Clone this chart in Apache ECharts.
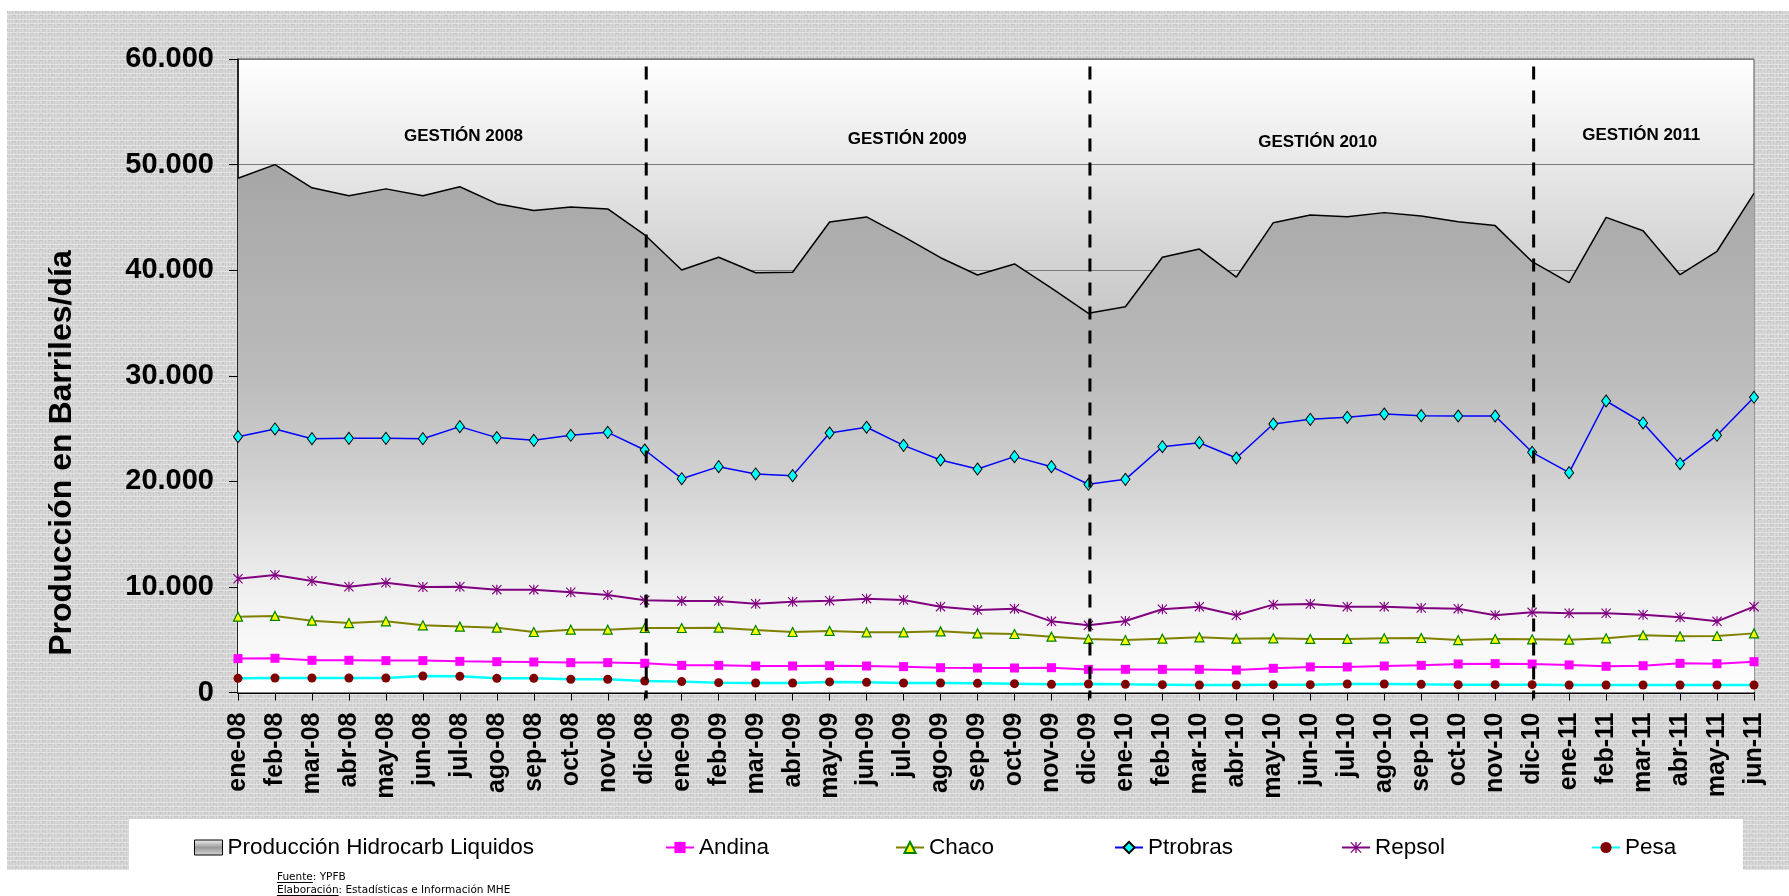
<!DOCTYPE html>
<html>
<head>
<meta charset="utf-8">
<script src="https://cdn.jsdelivr.net/npm/echarts@6/dist/echarts.min.js"></script>
<style>
  html, body { margin: 0; padding: 0; background: #ffffff; }
  #chart { width: 1789px; height: 896px; }
</style>
</head>
<body>
<div id="chart"></div>
<script>
// Monthly liquid hydrocarbon production (barrels per day), Jan 2008 - Jun 2011
const months = [
  'ene-08','feb-08','mar-08','abr-08','may-08','jun-08','jul-08','ago-08','sep-08','oct-08','nov-08','dic-08',
  'ene-09','feb-09','mar-09','abr-09','may-09','jun-09','jul-09','ago-09','sep-09','oct-09','nov-09','dic-09',
  'ene-10','feb-10','mar-10','abr-10','may-10','jun-10','jul-10','ago-10','sep-10','oct-10','nov-10','dic-10',
  'ene-11','feb-11','mar-11','abr-11','may-11','jun-11'
];

const totalLiquidos = [
  48700, 50000, 47800, 47050, 47700, 47050, 47900, 46300, 45650, 45980, 45800, 43350,
  40020, 41220, 39760, 39800, 44560, 45040, 43170, 41180, 39540, 40590, 38300, 35910,
  36540, 41220, 42000, 39350, 44500, 45230, 45070, 45450, 45130, 44590, 44220, 40800,
  38820, 45000, 43740, 39570, 41790, 47280
];

const andina = [
  3210, 3240, 3050, 3050, 3020, 3020, 2950, 2920, 2890, 2830, 2830, 2760,
  2570, 2570, 2510, 2510, 2540, 2510, 2450, 2350, 2320, 2320, 2350, 2190,
  2190, 2190, 2190, 2130, 2290, 2420, 2420, 2510, 2570, 2700, 2730, 2700,
  2610, 2480, 2540, 2760, 2730, 2920
];

const chaco = [
  7180, 7250, 6800, 6580, 6740, 6360, 6240, 6140, 5730, 5950, 5950, 6110,
  6110, 6140, 5920, 5730, 5830, 5700, 5700, 5790, 5600, 5540, 5290, 5070,
  4970, 5100, 5230, 5100, 5130, 5070, 5070, 5130, 5160, 4970, 5070, 5040,
  5000, 5130, 5420, 5320, 5350, 5600
];

const ptrobras = [
  24230, 24960, 24040, 24070, 24070, 24040, 25180, 24140, 23880, 24360, 24640, 22970,
  20250, 21390, 20700, 20540, 24580, 25120, 23410, 22020, 21170, 22340, 21390, 19720,
  20190, 23280, 23660, 22210, 25430, 25870, 26060, 26380, 26220, 26190, 26190, 22750,
  20820, 27610, 25530, 21670, 24360, 27960
];

const repsol = [
  10780, 11130, 10560, 10020, 10400, 9990, 10020, 9740, 9740, 9490, 9240, 8730,
  8670, 8670, 8410, 8600, 8700, 8890, 8760, 8130, 7810, 7940, 6740, 6360,
  6770, 7880, 8130, 7310, 8320, 8380, 8130, 8130, 8000, 7940, 7310, 7590,
  7500, 7500, 7370, 7120, 6740, 8130
];

const pesa = [
  1340, 1370, 1370, 1370, 1370, 1560, 1530, 1340, 1340, 1250, 1250, 1090,
  1030, 930, 900, 900, 1000, 960, 900, 900, 870, 840, 770, 810,
  770, 740, 710, 710, 740, 740, 810, 810, 770, 740, 740, 740,
  710, 710, 710, 710, 710, 710
];

const yTickLabels = ['0', '10.000', '20.000', '30.000', '40.000', '50.000', '60.000'];
const yearLabels = ['GESTIÓN 2008', 'GESTIÓN 2009', 'GESTIÓN 2010', 'GESTIÓN 2011'];
const yearEnds = ['dic-08', 'dic-09', 'dic-10'];
const seriesNames = ['Producción Hidrocarb Liquidos', 'Andina', 'Chaco', 'Ptrobras', 'Repsol', 'Pesa'];
const yAxisTitle = 'Producción en Barriles/día';
const sourceLines = [['Fuente', ': YPFB'], ['Elaboración', ': Estadísticas e Información MHE']];

// ---------- drawing ----------
const FONT = 'Liberation Sans, Arial, sans-serif';
const chart = echarts.init(document.getElementById('chart'), null, { renderer: 'canvas' });

// woven canvas texture for the outer panel
function makeTexture() {
  const c = document.createElement('canvas');
  c.width = 9; c.height = 9;
  const g = c.getContext('2d');
  g.fillStyle = '#d7d7d7'; g.fillRect(0, 0, 9, 9);
  g.fillStyle = '#cacaca';
  for (let i = 0; i < 9; i += 3) g.fillRect(i, 0, 1, 9);
  g.fillStyle = '#e3e3e3';
  for (let j = 1; j < 9; j += 4) g.fillRect(0, j, 9, 1);
  g.fillStyle = '#c4c4c4';
  g.fillRect(4, 6, 2, 1); g.fillRect(7, 2, 1, 2);
  return c;
}

// asterisk marker built from three bars
const asteriskPath = 'path://M4.4 0H5.6V10H4.4Z M0 0.8L0.8 0L10 9.2L9.2 10Z M9.2 0L10 0.8L0.8 10L0 9.2Z';

const G = echarts.graphic;
const areaFill = new G.LinearGradient(0, 0, 0, 1, [
  { offset: 0, color: '#a6a6a6' },
  { offset: 0.4, color: '#bbbbbb' },
  { offset: 0.6, color: '#d2d2d2' },
  { offset: 0.8, color: '#efefef' },
  { offset: 1, color: '#ffffff' }
]);
const plotFill = new G.LinearGradient(0, 0, 0, 1, [
  { offset: 0, color: '#ffffff' },
  { offset: 0.4, color: '#c8c8c8' },
  { offset: 1, color: '#8c8c8c' }
]);
const iconFill = new G.LinearGradient(0, 0, 0, 1, [
  { offset: 0, color: '#f4f4f4' },
  { offset: 0.5, color: '#9a9a9a' },
  { offset: 1, color: '#d8d8d8' }
]);

function lineSeries(name, data, color, width, symbol, symbolSize, itemStyle) {
  return {
    name, type: 'line', data,
    symbol, symbolSize, showSymbol: true, showAllSymbol: true,
    lineStyle: { color, width },
    itemStyle: Object.assign({ color }, itemStyle || {}),
    z: 3, silent: true
  };
}

const legendBase = {
  orient: 'horizontal', top: 836, padding: 0, itemWidth: 28, itemHeight: 14,
  selectedMode: false,
  textStyle: { fontFamily: FONT, fontSize: 22.5, color: '#000' }
};
const legendLefts = [194, 665, 895, 1114, 1341, 1591];

const option = {
  animation: false,
  backgroundColor: '#ffffff',
  grid: {
    left: 238, right: 35, top: 59, bottom: 203.5,
    show: true, backgroundColor: plotFill, borderColor: '#555555', borderWidth: 1,
    containLabel: false, outerBoundsMode: 'none'
  },
  xAxis: {
    type: 'category', data: months, boundaryGap: false,
    axisLine: { show: true, lineStyle: { color: '#000', width: 2 } },
    axisTick: { show: true, interval: 0, length: 8, lineStyle: { color: '#000', width: 1 } },
    axisLabel: {
      interval: 0, rotate: 90, margin: 20,
      fontFamily: FONT, fontWeight: 'bold', fontSize: 25, color: '#000'
    },
    splitLine: { show: false }
  },
  yAxis: {
    type: 'value', min: 0, max: 60000, interval: 10000,
    axisLine: { show: true, lineStyle: { color: '#000', width: 1.5 } },
    axisTick: { show: true, length: 9, lineStyle: { color: '#000', width: 1 } },
    axisLabel: {
      margin: 24, fontFamily: FONT, fontWeight: 'bold', fontSize: 29, color: '#000',
      formatter: v => yTickLabels[Math.round(v / 10000)]
    },
    splitLine: { show: true, lineStyle: { color: '#7a7a7a', width: 1 } }
  },
  legend: [
    Object.assign({}, legendBase, {
      left: legendLefts[0], itemHeight: 15,
      data: [{ name: seriesNames[0], icon: 'rect',
               itemStyle: { color: iconFill, borderColor: '#000', borderWidth: 1 } }]
    }),
    Object.assign({}, legendBase, { left: legendLefts[1], data: [seriesNames[1]] }),
    Object.assign({}, legendBase, { left: legendLefts[2], data: [seriesNames[2]] }),
    Object.assign({}, legendBase, { left: legendLefts[3], data: [seriesNames[3]] }),
    Object.assign({}, legendBase, { left: legendLefts[4], data: [seriesNames[4]] }),
    Object.assign({}, legendBase, { left: legendLefts[5], data: [seriesNames[5]] })
  ],
  series: [
    {
      name: seriesNames[0], type: 'line', data: totalLiquidos,
      symbol: 'none', lineStyle: { color: '#000', width: 1.5 },
      itemStyle: { color: '#9a9a9a' },
      areaStyle: { color: areaFill, opacity: 1 },
      z: 1, silent: true
    },
    lineSeries(seriesNames[1], andina, '#ff00ff', 2, 'rect', 9),
    lineSeries(seriesNames[2], chaco, '#808000', 2, 'triangle', 9,
               { color: '#ffff00', borderColor: '#008000', borderWidth: 1.2 }),
    lineSeries(seriesNames[3], ptrobras, '#0000ff', 1.5, 'diamond', [9, 12],
               { color: '#00ffff', borderColor: '#000000', borderWidth: 1 }),
    lineSeries(seriesNames[4], repsol, '#800080', 2, asteriskPath, 10),
    lineSeries(seriesNames[5], pesa, '#00ffff', 2.5, 'circle', 9,
               { color: '#800000' })
  ],
  graphic: [
    { id: 'panel', type: 'rect', z: -5, silent: true,
      shape: { x: 7, y: 11, width: 1782, height: 859 },
      style: { fill: { image: makeTexture(), repeat: 'repeat' } } },
    { id: 'legendBox', type: 'rect', z: -4, silent: true,
      shape: { x: 129, y: 819, width: 1614, height: 77 },
      style: { fill: '#ffffff' } },
    { id: 'yTitle', type: 'text', x: 62, y: 453, rotation: Math.PI / 2, silent: true,
      style: { text: yAxisTitle, x: 0, y: 0, align: 'center', verticalAlign: 'middle',
               font: 'bold 32px ' + FONT, fill: '#000' } }
  ]
};

chart.setOption(option);

// year separators and year captions placed through the axes
const xOf = c => chart.convertToPixel({ xAxisIndex: 0 }, c);
const yOf = v => chart.convertToPixel({ yAxisIndex: 0 }, v);
const x0 = xOf(months[0]);
const step = xOf(months[1]) - x0;
const extra = [];

yearEnds.forEach((m, i) => {
  const x = xOf(m) + 1.5;
  extra.push({
    id: 'sep' + i, type: 'line', z: 10, silent: true,
    shape: { x1: x, y1: yOf(59300), x2: x, y2: yOf(0) + 6 },
    style: { stroke: '#000', lineWidth: 3, lineDash: [13, 11] }
  });
});

// caption anchors: [fractional month index, value]
const yearAnchors = [[6.1, 52700], [18.1, 52400], [29.2, 52150], [37.95, 52750]];
yearLabels.forEach((t, i) => {
  extra.push({
    id: 'year' + i, type: 'text', z: 10, silent: true,
    x: x0 + yearAnchors[i][0] * step, y: yOf(yearAnchors[i][1]),
    style: { text: t, x: 0, y: 0, align: 'center', verticalAlign: 'middle',
             font: 'bold 17px ' + FONT, fill: '#000' }
  });
});

// source notes with underlined headings
const noteFont = '10.5px DejaVu Sans, sans-serif';
const measure = document.createElement('canvas').getContext('2d');
measure.font = noteFont;
sourceLines.forEach((parts, i) => {
  const y = 877 + i * 13;
  extra.push({
    id: 'note' + i, type: 'text', z: 10, silent: true, x: 277, y,
    style: { text: parts[0] + parts[1], x: 0, y: 0, align: 'left', verticalAlign: 'middle',
             font: noteFont, fill: '#000' }
  });
  const w = measure.measureText(parts[0]).width;
  extra.push({
    id: 'underline' + i, type: 'line', z: 10, silent: true,
    shape: { x1: 277, y1: y + 5.5, x2: 277 + w, y2: y + 5.5 },
    style: { stroke: '#000', lineWidth: 1 }
  });
});

chart.setOption({ graphic: extra });
</script>
</body>
</html>
